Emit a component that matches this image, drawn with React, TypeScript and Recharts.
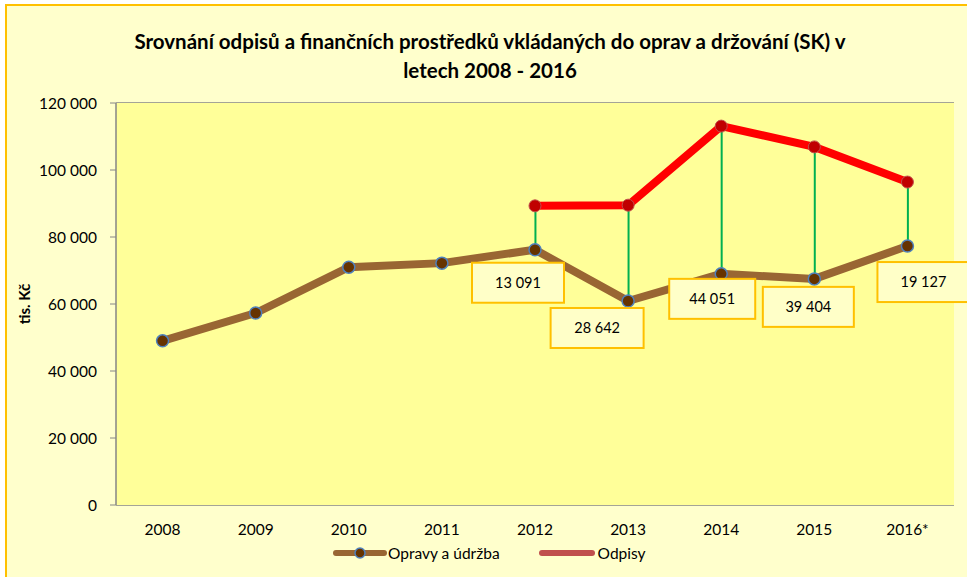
import { ComposedChart, Line, Bar, XAxis, YAxis, CartesianGrid, LabelList } from 'recharts';

const years = ['2008', '2009', '2010', '2011', '2012', '2013', '2014', '2015', '2016*'];
const opravy = [49000, 57300, 71000, 72200, 76200, 60900, 69000, 67500, 77300];
const odpisy = [null, null, null, null, 89300, 89500, 113100, 106900, 96400];
const rozdil = [null, null, null, null, 13091, 28642, 44051, 39404, 19127];
const yTicks = [0, 20000, 40000, 60000, 80000, 100000, 120000];

const data = years.map((year, i) => ({
  year,
  opravy: opravy[i],
  odpisy: odpisy[i],
  rozdil: rozdil[i],
  spoj: odpisy[i] != null ? [opravy[i], odpisy[i]] : null,
}));

const FONT = 'Lato, "Open Sans", sans-serif';
const fmt = (v: number) => String(v).replace(/\B(?=(\d{3})+(?!\d))/g, ' ');

// box placement next to each brown point (px), by index
const boxShift: Record<number, [number, number, number]> = {
  4: [-17, 33, 92],
  5: [-31, 27, 93],
  6: [-9, 25, 86],
  7: [-6, 28, 91],
  8: [16, 36, 92],
};

const BoxLabel = (props: any) => {
  const { x, y, value, index } = props;
  if (value == null) return null;
  const [dx, dy, w] = boxShift[index] || [0, 30, 90];
  const h = 40;
  const cx = x + dx;
  const cy = y + dy;
  return (
    <g>
      <rect x={cx - w / 2} y={cy - h / 2} width={w} height={h} fill="#FFFFC8" stroke="#FFC000" strokeWidth={2} />
      <text x={cx} y={cy + 5} textAnchor="middle" fontSize={14.5} fill="#000" fontFamily={FONT}>
        {fmt(value)}
      </text>
    </g>
  );
};

const BrownDot = (props: any) => {
  const { cx, cy } = props;
  if (cx == null || cy == null) return null;
  return <circle cx={cx} cy={cy} r={6} fill="#663300" stroke="#4F81BD" strokeWidth={1.5} />;
};

const RedDot = (props: any) => {
  const { cx, cy, value } = props;
  if (cx == null || cy == null || value == null) return null;
  return <circle cx={cx} cy={cy} r={6} fill="#C00000" stroke="#C0504D" strokeWidth={1} />;
};

export default function App() {
  return (
    <div style={{ position: 'absolute', left: 0, top: 0, width: 967, height: 577, overflow: 'hidden', background: '#fff', fontFamily: FONT }}>
      <div style={{ position: 'absolute', left: 5, top: 4, width: 980, height: 600, background: '#FFFFCC', border: '2px solid #FFC000' }} />
      <div style={{ position: 'absolute', left: 0, top: 27, width: 980, textAlign: 'center', fontWeight: 700, fontSize: 20.5, lineHeight: '29px', color: '#000' }}>
        Srovnání odpisů a finančních prostředků vkládaných do oprav a držování (SK) v<br />letech 2008 - 2016
      </div>
      <div style={{ position: 'absolute', left: 0, top: 0 }}>
        <ComposedChart width={967} height={577} data={data} margin={{ top: 103, right: 13, bottom: 42, left: 0 }}>
          <rect x={116} y={103} width={838} height={402} fill="#FFFF99" />
          <CartesianGrid vertical={false} stroke="#868686" strokeWidth={1.5} />
          <XAxis
            xAxisId="edge"
            type="number"
            domain={[0, years.length]}
            ticks={years.map((_, i) => i).concat(years.length)}
            tick={false}
            tickSize={5}
            height={0}
            stroke="#868686"
            axisLine={{ stroke: '#868686', strokeWidth: 1.5 }}
          />
          <XAxis
            xAxisId="cat"
            dataKey="year"
            axisLine={false}
            tickLine={false}
            height={30}
            tickMargin={13}
            tick={{ fontSize: 15.5, fill: '#000', fontFamily: FONT }}
          />
          <YAxis
            width={116}
            domain={[0, 120000]}
            ticks={yTicks}
            tickFormatter={fmt}
            tickSize={6}
            tickMargin={13}
            stroke="#868686"
            axisLine={{ stroke: '#868686', strokeWidth: 1.5 }}
            tick={{ fontSize: 15.5, fill: '#000', fontFamily: FONT }}
            label={{ value: 'tis. Kč', angle: -90, position: 'insideLeft', dx: 20, style: { fontSize: 15, fontWeight: 700, fill: '#000', fontFamily: FONT, textAnchor: 'middle' } }}
          />
          <Bar xAxisId="cat" dataKey="spoj" barSize={2} fill="#00B050" isAnimationActive={false} />
          <Line
            xAxisId="cat"
            dataKey="opravy"
            stroke="#996633"
            strokeWidth={8}
            dot={<BrownDot />}
            activeDot={false}
            isAnimationActive={false}
          >
            <LabelList dataKey="rozdil" content={<BoxLabel />} />
          </Line>
          <Line
            xAxisId="cat"
            dataKey="odpisy"
            stroke="#FF0000"
            strokeWidth={8}
            dot={<RedDot />}
            activeDot={false}
            connectNulls={false}
            isAnimationActive={false}
          />
        </ComposedChart>
      </div>
      <div style={{ position: 'absolute', top: 544, left: 332, display: 'flex', alignItems: 'center', fontSize: 15.5, color: '#000' }}>
        <svg width={56} height={14}>
          <line x1={4} y1={7} x2={52} y2={7} stroke="#996633" strokeWidth={6} strokeLinecap="round" />
          <circle cx={28} cy={7} r={5} fill="#663300" stroke="#4F81BD" strokeWidth={1.5} />
        </svg>
        <span>Opravy a údržba</span>
        <svg width={62} height={14} style={{ marginLeft: 36 }}>
          <line x1={6} y1={7} x2={56} y2={7} stroke="#C0504D" strokeWidth={6} strokeLinecap="round" />
        </svg>
        <span>Odpisy</span>
      </div>
    </div>
  );
}
